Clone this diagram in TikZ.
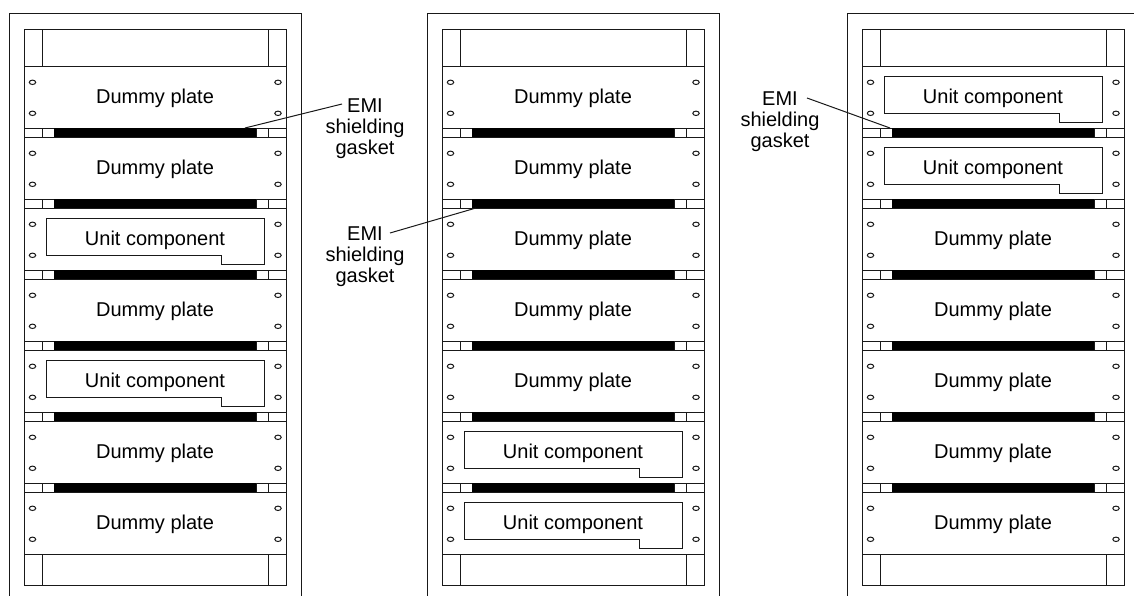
\documentclass[tikz,border=0pt]{standalone}
\usepackage{fontspec}
\setmainfont{Liberation Sans}
\tikzset{
  line/.style={line width=1pt, draw=black!90},
  label/.style={font=\fontsize{20}{21}\selectfont, align=center, inner sep=0pt},
  hole/.style={line width=1pt, draw=black!90, fill=white}
}
\begin{document}
\begin{tikzpicture}[x=1pt, y=-1pt]
  \useasboundingbox (0,0) rectangle (1134,596);
  % one entry per plate: 1 holds a unit component
  \foreach \rackx/\slots in {0/{0,0,1,0,1,0,0}, 418/{0,0,0,0,0,1,1}, 838/{1,1,0,0,0,0,0}} {
    \begin{scope}[xshift=\rackx pt]
      \draw[line] (9,596) -- (9,13.3) -- (301,13.3) -- (301,596);
      \draw[line] (24,29.3) rectangle (286,585);
      \draw[line] (42,29.3) -- (42,66) (268,29.3) -- (268,66);
      \draw[line] (42,554) -- (42,585) (268,554) -- (268,585);
      \foreach \unit [count=\i from 0] in \slots {
        \pgfmathsetmacro{\platey}{66.3+71*\i}
        \begin{scope}[yshift=-\platey pt]
          \draw[line, fill=white] (24,0) rectangle (286,62);
          \foreach \holex in {32.5,278} {
            \draw[hole] (\holex,16) ellipse (3.2 and 2.2);
            \draw[hole] (\holex,47) ellipse (3.2 and 2.2);
          }
          \ifnum\unit=1
            \draw[line] (46,10) -- (264,10) -- (264,56) -- (221,56) -- (221,47) -- (46,47) -- cycle;
            \node[label] (unit\rackx-\i) at (155,32) {Unit component};
          \else
            \node[label] (plate\rackx-\i) at (155,32) {Dummy plate};
          \fi
          \ifnum\i<6
            \draw[line] (42,62) -- (42,71) (268,62) -- (268,71);
            \draw[line] (54,62) -- (54,71) (256,62) -- (256,71);
            \fill[black] (54,62) rectangle (256,71);
          \fi
        \end{scope}
      }
    \end{scope}
  }
  \node[label] (emiA) at (365,129) {EMI\\shielding\\gasket};
  \node[label] (emiB) at (365,257) {EMI\\shielding\\gasket};
  \node[label] (emiC) at (780,122) {EMI\\shielding\\gasket};
  \coordinate (startA) at (342,104);
  \coordinate (gasketA) at (245,128);
  \coordinate (startB) at (390,233);
  \coordinate (gasketB) at (476,208);
  \coordinate (startC) at (807,98);
  \coordinate (gasketC) at (890,128);
  \draw[line] (startA) -- (gasketA);
  \draw[line] (startB) -- (gasketB);
  \draw[line] (startC) -- (gasketC);
\end{tikzpicture}
\end{document}
